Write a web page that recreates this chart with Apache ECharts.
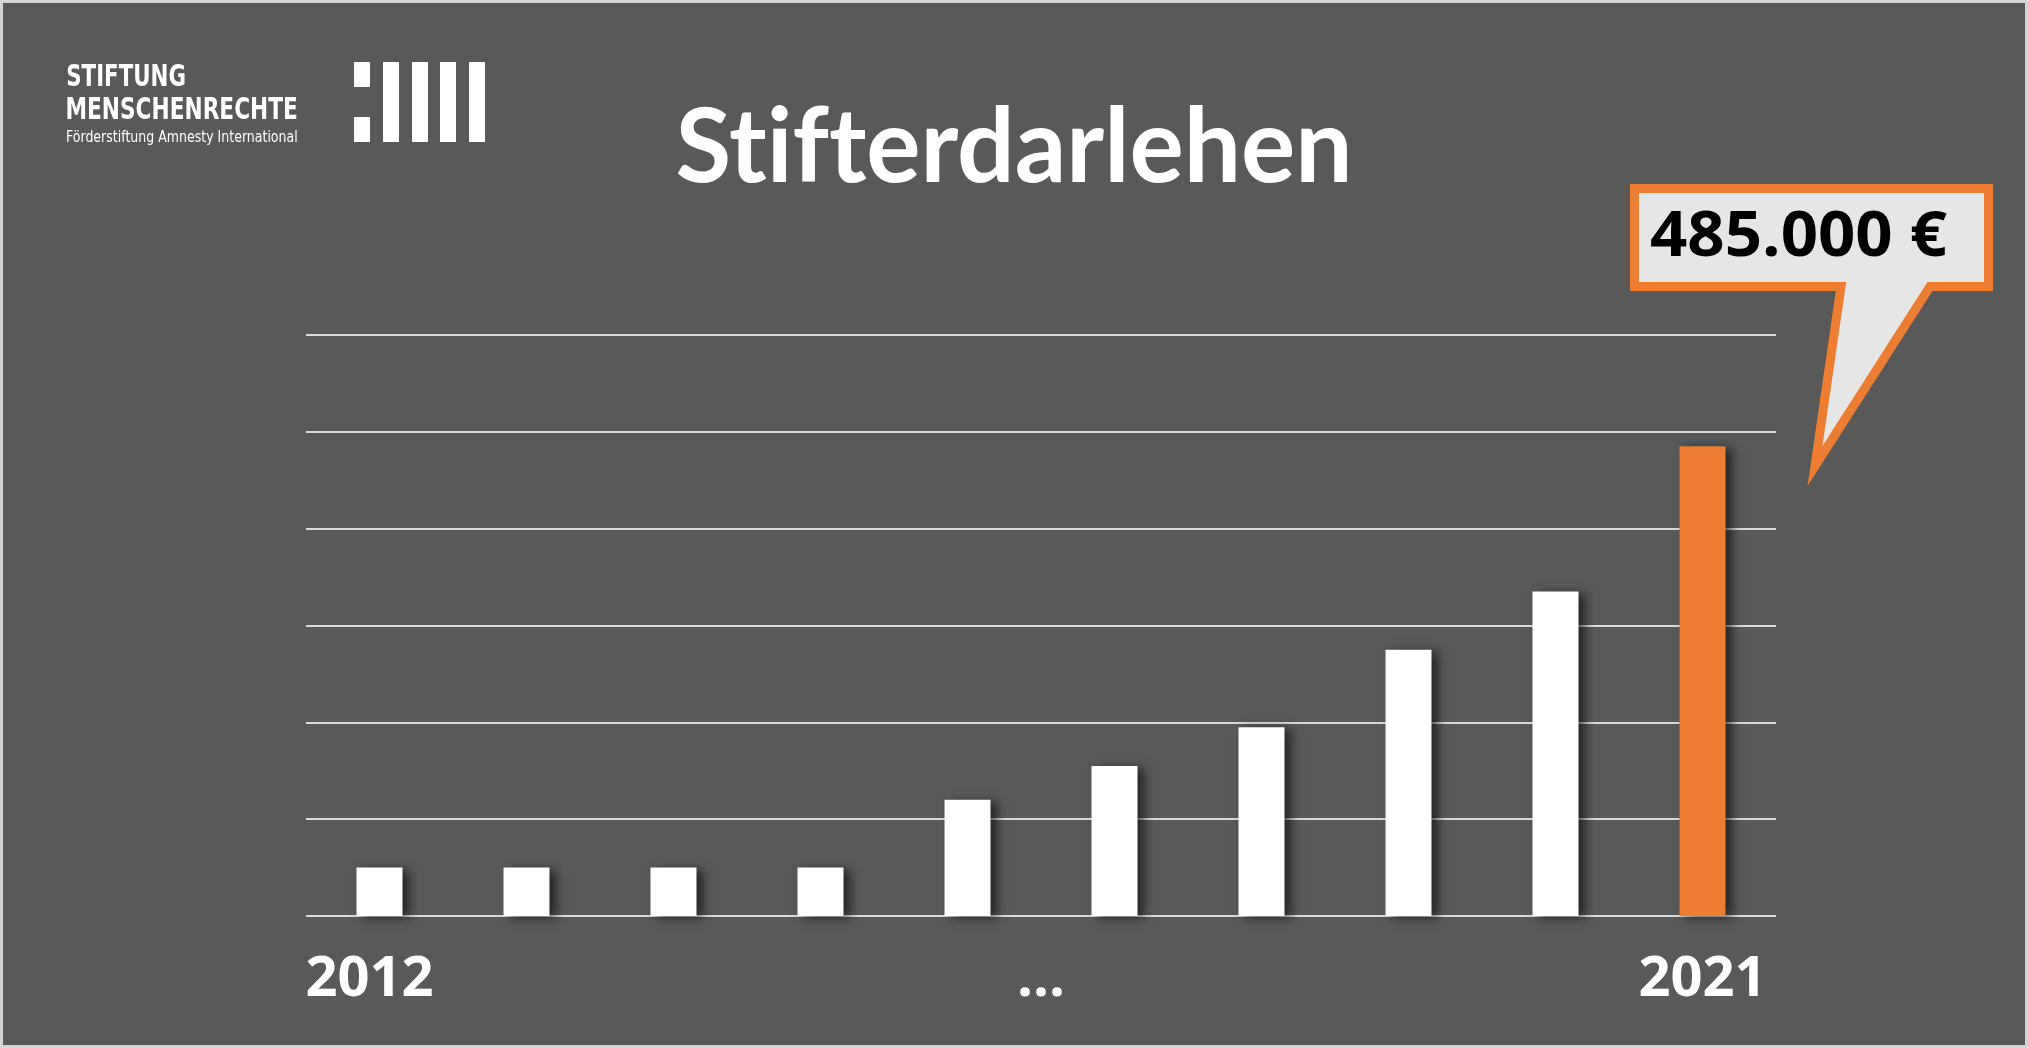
<!DOCTYPE html>
<html>
<head>
<meta charset="utf-8">
<script src="https://cdn.jsdelivr.net/npm/echarts@6/dist/echarts.min.js"></script>
<style>
  html, body { margin: 0; padding: 0; background: #595959; }
  #chart { width: 2028px; height: 1048px; }
</style>
</head>
<body>
<div id="chart"></div>
<script>
// ---- data ----
const years = ['2012', '2013', '2014', '2015', '2016', '2017', '2018', '2019', '2020', '2021'];
const yearLabels = ['2012', '', '', '', '', '', '', '', '', '2021'];
const middleLabel = ['...'];
const values = [50000, 50000, 50000, 50000, 120000, 155000, 195000, 275000, 335000, 485000];
const highlightIndex = 9;
const yMin = 0, yMax = 600000, yInterval = 100000;
const titleText = 'Stifterdarlehen';
const logoLines = ['STIFTUNG', 'MENSCHENRECHTE', 'Förderstiftung Amnesty International'];

// ---- helpers ----
const ORANGE = '#ED7D31';
const mctx = document.createElement('canvas').getContext('2d');
function inkWidth(text, font) {
  mctx.font = font; mctx.textBaseline = 'middle';
  const m = mctx.measureText(text);
  return m.actualBoundingBoxLeft + m.actualBoundingBoxRight;
}
function inkLeft(text, font) {
  mctx.font = font; mctx.textBaseline = 'middle';
  return -mctx.measureText(text).actualBoundingBoxLeft;
}
function midFromCapTop(font, capTop) {
  mctx.font = font; mctx.textBaseline = 'middle';
  return capTop + mctx.measureText('H').actualBoundingBoxAscent;
}
function fmtEuro(v) {
  return String(v).replace(/\B(?=(\d{3})+(?!\d))/g, '.') + ' €';
}
function noLig(t) { return t.split('').join('\u200C'); }
function textEl(text, font, color, inkX, capTop, targetW, align) {
  const s = targetW / inkWidth(text, font);
  const y = midFromCapTop(font, capTop);
  let x = inkX;
  if (align === 'left') x = inkX - inkLeft(text, font) * s;
  return {
    type: 'text', x: x, y: y, scaleX: s, z: 20,
    style: { text: text, font: font, fill: color, align: align || 'left', verticalAlign: 'middle' }
  };
}

const titleFont = '700 103px Lato';
const calloutFont = '700 63px "Open Sans"';
const logoFont1 = 'bold 30px "DejaVu Sans Condensed"';
const logoFont2 = 'bold 31px "DejaVu Sans Condensed"';
const logoFont3 = '15px "DejaVu Sans Condensed"';

const chart = echarts.init(document.getElementById('chart'), null, { renderer: 'canvas' });

const labelStyle = {
  color: '#ffffff', fontSize: 56, fontWeight: 'bold', fontFamily: '"Open Sans"', margin: 36
};

const option = {
  backgroundColor: '#595959',
  animation: false,
  grid: [
    { left: 306, right: 252, top: 335, bottom: 132 },
    { left: 306, right: 252, top: 335, bottom: 132 }
  ],
  xAxis: [
    {
      type: 'category', gridIndex: 0, data: years,
      axisLine: { show: false }, axisTick: { show: false },
      axisLabel: Object.assign({
        interval: 0,
        formatter: (v, i) => i === 0 ? '{first|' + yearLabels[i] + '}' : yearLabels[i],
        rich: { first: { color: '#ffffff', fontSize: 56, fontWeight: 'bold', fontFamily: '"Open Sans"', padding: [0, 20, 0, 0] } }
      }, labelStyle)
    },
    {
      type: 'category', gridIndex: 1, data: middleLabel,
      axisLine: { show: false }, axisTick: { show: false },
      axisLabel: Object.assign({ interval: 0 }, labelStyle)
    }
  ],
  yAxis: [
    {
      type: 'value', gridIndex: 0, min: yMin, max: yMax, interval: yInterval,
      axisLabel: { show: false }, axisLine: { show: false }, axisTick: { show: false },
      splitLine: { show: true, lineStyle: { color: '#d9d9d9', width: 2 } }
    },
    {
      type: 'value', gridIndex: 1, min: yMin, max: yMax, interval: yInterval,
      show: false, splitLine: { show: false }
    }
  ],
  series: [{
    type: 'bar', xAxisIndex: 0, yAxisIndex: 0,
    barWidth: 46,
    data: values.map((v, i) => i === highlightIndex ? { value: v, itemStyle: { color: ORANGE } } : v),
    itemStyle: {
      color: '#ffffff',
      shadowColor: 'rgba(0,0,0,0.6)', shadowBlur: 10, shadowOffsetX: 6, shadowOffsetY: 2
    },
    z: 5
  }],
  graphic: [
    // outer frame
    { type: 'rect', shape: { x: 0, y: 0, width: 2028, height: 1048 },
      style: { fill: null, stroke: '#d4d4d4', lineWidth: 6 }, z: 30 },
    // title
    textEl(noLig(titleText), titleFont, '#ffffff', 1014, 107, 670, 'center'),
    // logo text
    textEl(logoLines[0], logoFont1, '#ffffff', 67, 64, 118, 'left'),
    textEl(logoLines[1], logoFont2, '#ffffff', 67, 97, 230, 'left'),
    textEl(logoLines[2], logoFont3, '#ffffff', 67, 130, 230, 'left'),
    // logo mark
    { type: 'rect', shape: { x: 354, y: 62, width: 16, height: 25 }, style: { fill: '#ffffff' }, z: 20 },
    { type: 'rect', shape: { x: 354, y: 117, width: 16, height: 25 }, style: { fill: '#ffffff' }, z: 20 },
    { type: 'rect', shape: { x: 383, y: 62, width: 16, height: 80 }, style: { fill: '#ffffff' }, z: 20 },
    { type: 'rect', shape: { x: 412, y: 62, width: 16, height: 80 }, style: { fill: '#ffffff' }, z: 20 },
    { type: 'rect', shape: { x: 440, y: 62, width: 16, height: 80 }, style: { fill: '#ffffff' }, z: 20 },
    { type: 'rect', shape: { x: 469, y: 62, width: 16, height: 80 }, style: { fill: '#ffffff' }, z: 20 },
    // callout
    { type: 'polygon', z: 20,
      shape: { points: [[1634.5, 188.5], [1988.5, 188.5], [1988.5, 286.5], [1930, 286.5], [1815, 466], [1841, 286.5], [1634.5, 286.5]] },
      style: { fill: '#e7e6e6', stroke: ORANGE, lineWidth: 9, lineJoin: 'miter', miterLimit: 20 } },
    textEl(fmtEuro(values[highlightIndex]), calloutFont, '#000000', 1651, 211, 296, 'left')
  ]
};
chart.setOption(option);
</script>
</body>
</html>
